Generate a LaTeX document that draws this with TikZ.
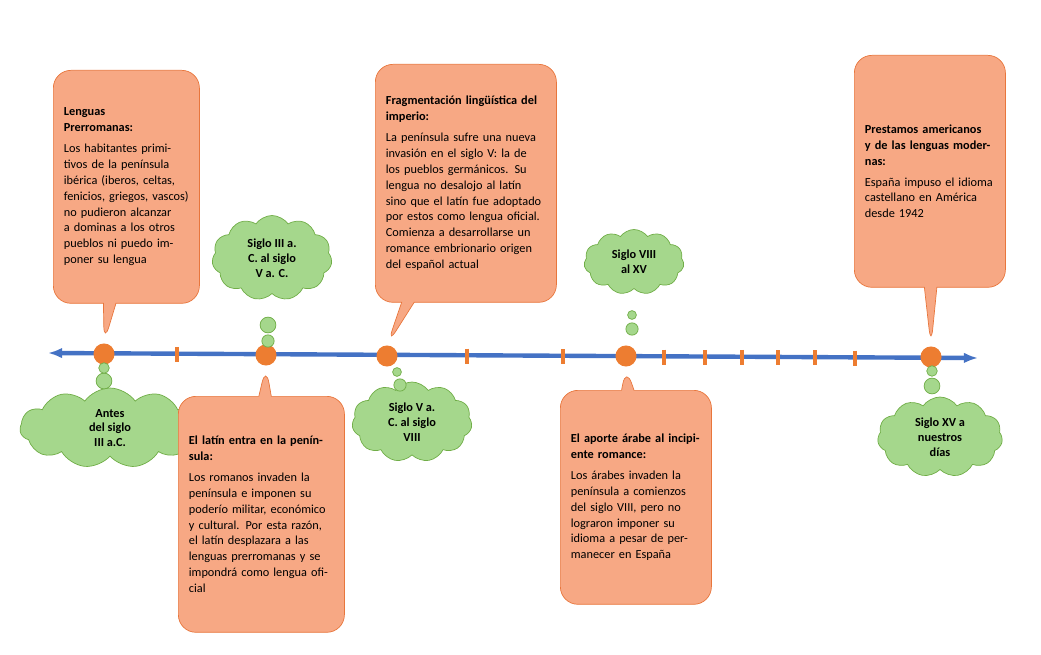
\documentclass[tikz,border=0pt]{standalone}
\usepackage{fontspec}
\setmainfont{Carlito}
\usetikzlibrary{arrows.meta}
\usetikzlibrary{shapes}
\usetikzlibrary{shapes.callouts}
\usetikzlibrary{shapes.symbols}
\usetikzlibrary{calc}

\definecolor{boxorange}{RGB}{247,168,132}
\definecolor{boxedge}{RGB}{232,118,60}
\definecolor{cloudgreen}{RGB}{165,215,140}
\definecolor{cloudedge}{RGB}{112,173,71}
\definecolor{lineblue}{RGB}{68,114,196}
\definecolor{dotorange}{RGB}{237,125,49}

\begin{document}
\begin{tikzpicture}[x=0.02cm, y=-0.02cm,
        box_style/.style={rectangle callout, rounded corners=10pt, draw=boxedge, fill=boxorange,
            anchor=north west, align=left, inner sep=6pt, font=\fontsize{7}{9}\selectfont},
        cloud_style/.style={cloud, cloud puffs=11, cloud puff arc=110, aspect=1.3, draw=cloudedge,
            fill=cloudgreen, align=center, font=\fontsize{7}{8.5}\selectfont\bfseries, inner sep=1pt},
        dot_style/.style={circle, fill=dotorange, inner sep=0pt, minimum size=12pt},
        puff_style/.style={circle, draw=cloudedge, fill=cloudgreen, inner sep=0pt},
        tick_style/.style={draw=dotorange, line width=2pt}]

        \useasboundingbox (0,0) rectangle (1041,655);

        % timeline
        \coordinate (tl_start) at (48,353);
        \coordinate (tl_end) at (978,358);
        \draw [lineblue, line width=2.5pt, {Latex[length=8pt]}-{Latex[length=8pt]}] (tl_start) -- (tl_end);
        \foreach \x in {177,467,563,664,705,742,778,815,855}
            \draw [tick_style] ({\x},{346+\x*5/930}) -- ({\x},{361+\x*5/930});

        \node [dot_style] (d1) at (104,354) {};
        \node [dot_style] (d2) at (266,355) {};
        \node [dot_style] (d3) at (387,356) {};
        \node [dot_style] (d4) at (626,356) {};
        \node [dot_style] (d5) at (931,357) {};

        % clouds
        \node [cloud_style, minimum width=3.6cm, minimum height=1.6cm] (c1) at (110,428) {Antes\\del siglo\\III a.C.};
        \node [cloud_style, minimum width=2.4cm, minimum height=1.7cm] (c2) at (272,258) {Siglo III a.\\C. al siglo\\V a. C.};
        \node [cloud_style, minimum width=2.4cm, minimum height=1.6cm] (c3) at (412,422) {Siglo V a.\\C. al siglo\\VIII};
        \node [cloud_style, minimum width=2cm, minimum height=1.3cm] (c4) at (634,262) {Siglo VIII\\al XV};
        \node [cloud_style, minimum width=2.5cm, minimum height=1.6cm] (c5) at (940,437) {Siglo XV a\\nuestros\\días};

        \node [puff_style, minimum size=9pt] (p1a) at (104,381) {};
        \node [puff_style, minimum size=6pt] (p1b) at (104,368) {};
        \node [puff_style, minimum size=9pt] (p2a) at (268,325) {};
        \node [puff_style, minimum size=7pt] (p2b) at (268,341) {};
        \node [puff_style, minimum size=7pt] (p3a) at (400,385) {};
        \node [puff_style, minimum size=5pt] (p3b) at (397,372) {};
        \node [puff_style, minimum size=7pt] (p4a) at (632,329) {};
        \node [puff_style, minimum size=5pt] (p4b) at (632,315) {};
        \node [puff_style, minimum size=9pt] (p5a) at (932,386) {};
        \node [puff_style, minimum size=6pt] (p5b) at (932,371) {};

        % callouts
        \node [box_style, text width=2.5cm, minimum height=4.66cm, callout absolute pointer={(d1.north)}] (b1) at (53,70)
            {\textbf{Lenguas\\Prerromanas:}\\[3pt]Los habitantes primitivos de la península ibérica (iberos, celtas, fenicios, griegos, vascos) no pudieron alcanzar a dominas a los otros pueblos ni puedo imponer su lengua};
        \node [box_style, text width=2.9cm, minimum height=4.72cm, callout absolute pointer={(d2.south)}] (b2) at (178,396)
            {\textbf{El latín entra en la península:}\\[3pt]Los romanos invaden la península e imponen su poderío militar, económico y cultural. Por esta razón, el latín desplazara a las lenguas prerromanas y se impondrá como lengua oficial};
        \node [box_style, text width=3.2cm, minimum height=4.76cm, callout absolute pointer={(d3.north)}] (b3) at (375,64)
            {\textbf{Fragmentación lingüística del imperio:}\\[3pt]La península sufre una nueva invasión en el siglo V: la de los pueblos germánicos. Su lengua no desalojo al latín sino que el latín fue adoptado por estos como lengua oficial. Comienza a desarrollarse un romance embrionario origen del español actual};
        \node [box_style, text width=2.6cm, minimum height=4.28cm, callout absolute pointer={(d4.south)}] (b4) at (560,390)
            {\textbf{El aporte árabe al incipiente romance:}\\[3pt]Los árabes invaden la península a comienzos del siglo VIII, pero no lograron imponer su idioma a pesar de permanecer en España};
        \node [box_style, text width=2.6cm, minimum height=4.64cm, callout absolute pointer={(d5.north)}] (b5) at (854,55)
            {\textbf{Prestamos americanos y de las lenguas modernas:}\\[3pt]España impuso el idioma castellano en América desde 1942};

\end{tikzpicture}
\end{document}
